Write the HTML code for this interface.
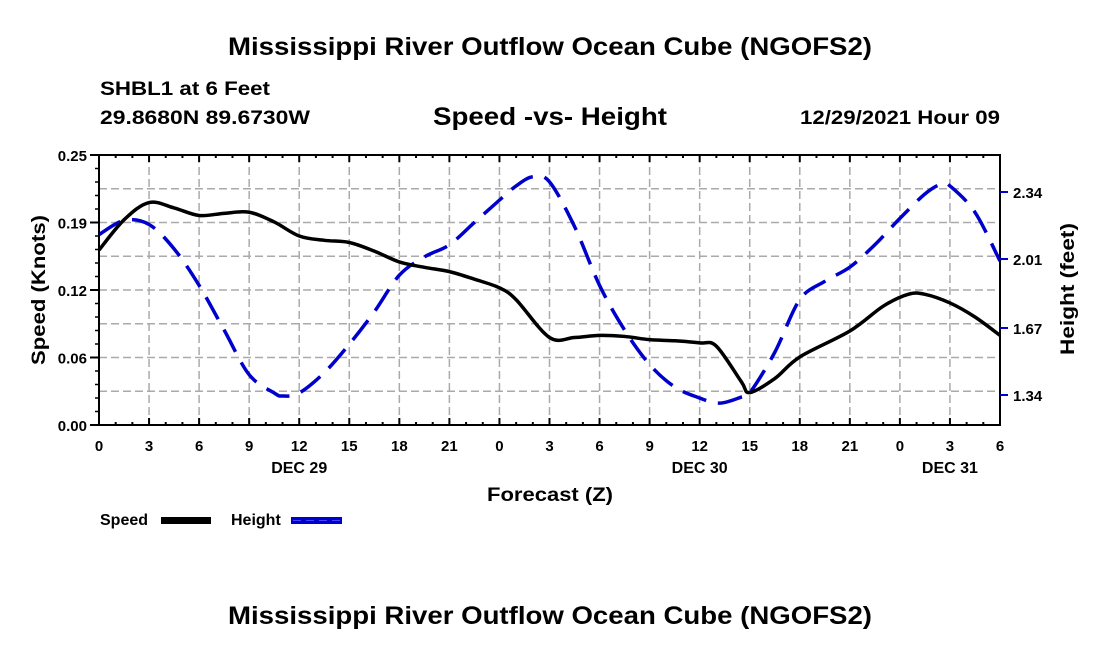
<!DOCTYPE html>
<html><head><meta charset="utf-8">
<style>
body{margin:0;background:#fff;}
svg{display:block;font-family:"Liberation Sans",Arial,sans-serif;font-weight:bold;}
</style></head>
<body>
<svg id="chart" width="1100" height="650" viewBox="0 0 1100 650">
<rect width="1100" height="650" fill="#fff"/>
<text x="228" y="55" font-size="25" textLength="644" lengthAdjust="spacingAndGlyphs">Mississippi River Outflow Ocean Cube (NGOFS2)</text>
<text x="100" y="95" font-size="19" textLength="170" lengthAdjust="spacingAndGlyphs">SHBL1 at 6 Feet</text>
<text x="100" y="124" font-size="19" textLength="210" lengthAdjust="spacingAndGlyphs">29.8680N  89.6730W</text>
<text x="433" y="125" font-size="25" textLength="234" lengthAdjust="spacingAndGlyphs">Speed -vs- Height</text>
<text x="800" y="124" font-size="19" textLength="200" lengthAdjust="spacingAndGlyphs">12/29/2021 Hour 09</text>
<g id="grid"></g>
<g id="series"></g>
<g id="axes"></g>
<text transform="translate(45,365) rotate(-90)" font-size="19" textLength="150" lengthAdjust="spacingAndGlyphs">Speed (Knots)</text>
<text transform="translate(1074,355) rotate(-90)" font-size="19" textLength="132" lengthAdjust="spacingAndGlyphs">Height (feet)</text>
<text x="487" y="501" font-size="19" textLength="126" lengthAdjust="spacingAndGlyphs">Forecast (Z)</text>
<g>
<text x="100" y="525" font-size="16">Speed</text>
<rect x="161" y="517" width="50" height="7" fill="#000"/>
<text x="231" y="525" font-size="16">Height</text>
<rect x="291" y="517" width="51" height="7" fill="#0000cc"/>
<line x1="293" y1="520.5" x2="340" y2="520.5" stroke="#4444ff" stroke-width="1" stroke-dasharray="8 5"/>
</g>
<text x="228" y="624" font-size="25" textLength="644" lengthAdjust="spacingAndGlyphs">Mississippi River Outflow Ocean Cube (NGOFS2)</text>
</svg>
<script>
const hours = [0,1.5,3,4.5,6,7.5,9,10.5,12,13.5,15,16.5,18,19.5,21,22.5,24,25,27,28.5,30,31.5,33,34.5,36,37,38.5,39,40.5,42,45,47,48.5,49.5,51,52.5,54];
const speedValues = [0.162,0.190,0.206,0.201,0.194,0.196,0.197,0.188,0.175,0.171,0.169,0.161,0.151,0.146,0.142,0.135,0.127,0.116,0.081,0.081,0.083,0.082,0.079,0.078,0.076,0.073,0.040,0.030,0.043,0.063,0.087,0.110,0.121,0.121,0.113,0.100,0.083];
const heightHours = [0,1.5,3,4.5,6,7.5,9,10.5,11,12,13.5,15,16.5,18,19.5,21,22.5,24,25,26,27,28.5,30,31.5,33,34.5,36,37.2,38.5,39,40.5,42,43.5,45,46.5,48,49.5,50.5,51,52.5,54];
const heightValues = [2.13,2.20,2.18,2.06,1.88,1.66,1.44,1.35,1.335,1.35,1.45,1.59,1.75,1.93,2.02,2.08,2.19,2.30,2.37,2.415,2.39,2.17,1.88,1.66,1.49,1.38,1.325,1.30,1.33,1.35,1.55,1.81,1.90,1.97,2.08,2.21,2.33,2.38,2.37,2.24,2.00];
const xTickLabels = ["0","3","6","9","12","15","18","21","0","3","6","9","12","15","18","21","0","3","6"];
const dayLabels = ["DEC 29","DEC 30","DEC 31"];
const dayHours = [12,36,51];
const speedTicks = [0,0.0625,0.125,0.1875,0.25];
const speedTickLabels = ["0.00","0.06","0.12","0.19","0.25"];
const heightTicks = [1.34,1.67,2.01,2.34];
const heightTickLabels = ["1.34","1.67","2.01","2.34"];

const X0=99,X1=1000,Y0=425,Y1=155;
const xS=h=>X0+(h/54)*(X1-X0);
const yS=v=>Y0-(v/0.25)*(Y0-Y1);
const hMin=1.34-30/203, hMax=1.34+240/203;
const yH=v=>Y0-(v-hMin)/(hMax-hMin)*(Y0-Y1);
const NS="http://www.w3.org/2000/svg";
function mk(tag,attrs,parent){const e=document.createElementNS(NS,tag);for(const k in attrs)e.setAttribute(k,attrs[k]);parent.appendChild(e);return e;}
const grid=document.getElementById('grid'),axes=document.getElementById('axes'),series=document.getElementById('series');
for(let i=1;i<18;i++){const x=xS(i*3);
 const l=mk('line',{x1:x,y1:Y1,x2:x,y2:Y0,stroke:'#aaa','stroke-width':1.5,'stroke-dasharray':'8 4'},grid);
 
 }
for(let i=1;i<8;i++){const y=yS(i*0.03125);
 const l=mk('line',{x1:X0,y1:y,x2:X1,y2:y,stroke:'#aaa','stroke-width':1.5,'stroke-dasharray':'8 4'},grid);
 
 }
function smooth(pts){let d=`M${pts[0][0]},${pts[0][1]}`;
 for(let i=0;i<pts.length-1;i++){const p0=pts[i-1]||pts[i],p1=pts[i],p2=pts[i+1],p3=pts[i+2]||p2;
  const c1=[p1[0]+(p2[0]-p0[0])/6,p1[1]+(p2[1]-p0[1])/6],c2=[p2[0]-(p3[0]-p1[0])/6,p2[1]-(p3[1]-p1[1])/6];
  d+=`C${c1[0]},${c1[1]} ${c2[0]},${c2[1]} ${p2[0]},${p2[1]}`;}return d;}
const hp=mk('path',{d:smooth(heightHours.map((h,i)=>[xS(h),yH(heightValues[i])])),fill:'none',stroke:'#0000cc','stroke-width':3.5,'stroke-dasharray':'25 12'},series);


const sp=mk('path',{d:smooth(hours.map((h,i)=>[xS(h),yS(speedValues[i])])),fill:'none',stroke:'#000','stroke-width':3.5},series);


const fr=mk('rect',{x:X0,y:Y1,width:X1-X0,height:Y0-Y1,fill:'none',stroke:'#000','stroke-width':2},axes);


for(let h=0;h<=54;h++){const x=xS(h);const L=h%3==0?7:3;
 mk('line',{x1:x,y1:Y0,x2:x,y2:Y0-L,stroke:'#000','stroke-width':2},axes);
 mk('line',{x1:x,y1:Y1,x2:x,y2:Y1+L,stroke:'#000','stroke-width':2},axes);}
for(let i=0;i<=20;i++){const y=yS(i*0.0125);mk('line',{x1:X0,y1:y,x2:X0-4,y2:y,stroke:'#000','stroke-width':1.5},axes);}
xTickLabels.forEach((t,i)=>{const e=mk('text',{x:xS(i*3),y:451,'text-anchor':'middle','font-size':15},axes);e.textContent=t;
 
 });
dayLabels.forEach((t,i)=>{const e=mk('text',{x:xS(dayHours[i]),y:473,'text-anchor':'middle','font-size':16},axes);e.textContent=t;
 
 });
speedTicks.forEach((v,i)=>{const y=yS(v);mk('line',{x1:X0,y1:y,x2:X0-9,y2:y,stroke:'#000','stroke-width':2},axes);
 const e=mk('text',{x:87,y:y+6,'text-anchor':'end','font-size':15},axes);e.textContent=speedTickLabels[i];
 
 });
heightTicks.forEach((v,i)=>{const y=yH(v);mk('line',{x1:X1,y1:y,x2:X1+8,y2:y,stroke:'#0000cc','stroke-width':2},axes);
 const e=mk('text',{x:1013,y:y+6,'font-size':15},axes);e.textContent=heightTickLabels[i];
 
 });
</script>
</body></html>
